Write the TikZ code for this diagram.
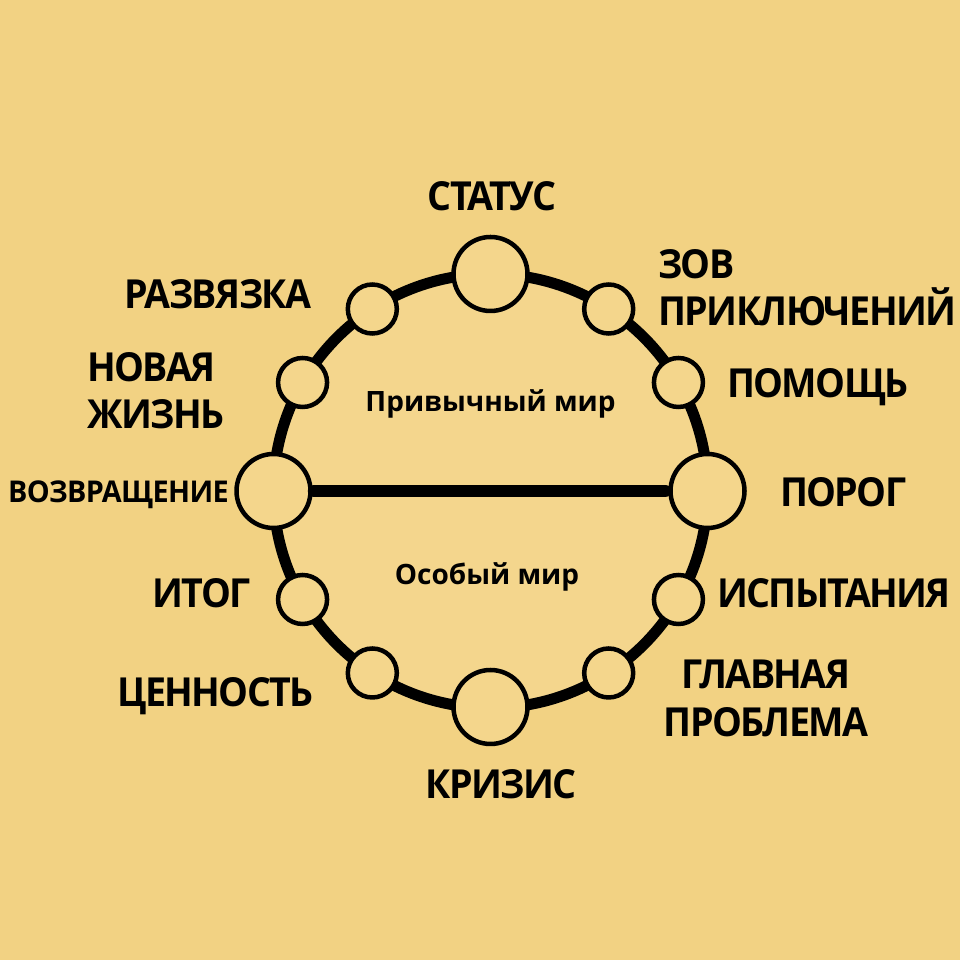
\documentclass[tikz,border=0pt]{standalone}
\usepackage{fontspec}
\setmainfont{Open Sans}
\newfontfamily\labfont[LetterSpace=-4,FakeStretch=0.94]{Open Sans}
\newfontfamily\midfont[LetterSpace=-2,FakeStretch=0.96]{Open Sans}
\definecolor{bgcol}{HTML}{F2D283}
\definecolor{incol}{HTML}{F4D68D}
\definecolor{nodecol}{HTML}{F4D68C}
\tikzset{
  bignode/.style={circle,draw=black,line width=4.5pt,fill=nodecol,minimum size=74pt,inner sep=0pt},
  smallnode/.style={circle,draw=black,line width=4.5pt,fill=nodecol,minimum size=49pt,inner sep=0pt},
  lab/.style={font=\labfont\bfseries\fontsize{40}{40}\selectfont,inner sep=0pt,text height=28.5pt,text depth=0pt},
  midlab/.style={font=\midfont\bfseries\fontsize{30}{30}\selectfont,inner sep=0pt,text height=21.4pt,text depth=0pt},
  worldlab/.style={font=\bfseries\fontsize{28}{28}\selectfont,inner sep=0pt}
}
\begin{document}
\begin{tikzpicture}[x=1pt,y=1pt]
\fill[bgcol] (0,0) rectangle (960,960);
\useasboundingbox (0,0) rectangle (960,960);
\coordinate (C) at (490.5,469);
\fill[incol] (C) circle (217);
\draw[line width=11pt] (C) circle (217);
% nodes
\node[bignode] (top) at ([shift={(90:217)}]C) {};
\node[bignode] (bot) at ([shift={(270:216)}]C) {};
\node[bignode] (lft) at ([shift={(180:217)}]C) {};
\node[bignode] (rgt) at ([shift={(0:217)}]C) {};
\node[smallnode] (a57) at ([shift={(57:217)}]C) {};
\node[smallnode] (a30) at ([shift={(30:217)}]C) {};
\node[smallnode] (a330) at ([shift={(330:217)}]C) {};
\node[smallnode] (a303) at ([shift={(303:217)}]C) {};
\node[smallnode] (a123) at ([shift={(123:217)}]C) {};
\node[smallnode] (a150) at ([shift={(150:217)}]C) {};
\node[smallnode] (a210) at ([shift={(210:217)}]C) {};
\node[smallnode] (a237) at ([shift={(237:217)}]C) {};
% horizontal line
\draw[line width=12pt,line cap=round,shorten <=1pt,shorten >=3pt] (lft.east) -- (rgt.west);
% labels
\node[lab] (tStatus) at (492,764) {СТАТУС};
\node[lab] (tRazv) at (218,666) {РАЗВЯЗКА};
\node[lab,anchor=west] (tZov) at (658,696) {ЗОВ};
\node[lab,anchor=west] (tPrikl) at (658,649) {ПРИКЛЮЧЕНИЙ};
\node[lab,anchor=west] (tNov) at (87,593) {НОВАЯ};
\node[lab,anchor=west] (tZhizn) at (87,546) {ЖИЗНЬ};
\node[lab,anchor=west] (tPom) at (727,577) {ПОМОЩЬ};
\node[midlab,anchor=west] (tVozv) at (8,468) {ВОЗВРАЩЕНИЕ};
\node[lab,anchor=west] (tPorog) at (780,468) {ПОРОГ};
\node[lab] (tItog) at (201.5,367) {ИТОГ};
\node[lab] (tIsp) at (834,367) {ИСПЫТАНИЯ};
\node[lab] (tCen) at (215.5,268) {ЦЕННОСТЬ};
\node[lab] (tGlav) at (766,286) {ГЛАВНАЯ};
\node[lab] (tProb) at (766,238) {ПРОБЛЕМА};
\node[lab] (tKriz) at (501,176) {КРИЗИС};
\node[worldlab] (tPriv) at (490.5,556) {Привычный мир};
\node[worldlab] (tOsob) at (487,383) {Особый мир};
\end{tikzpicture}
\end{document}
